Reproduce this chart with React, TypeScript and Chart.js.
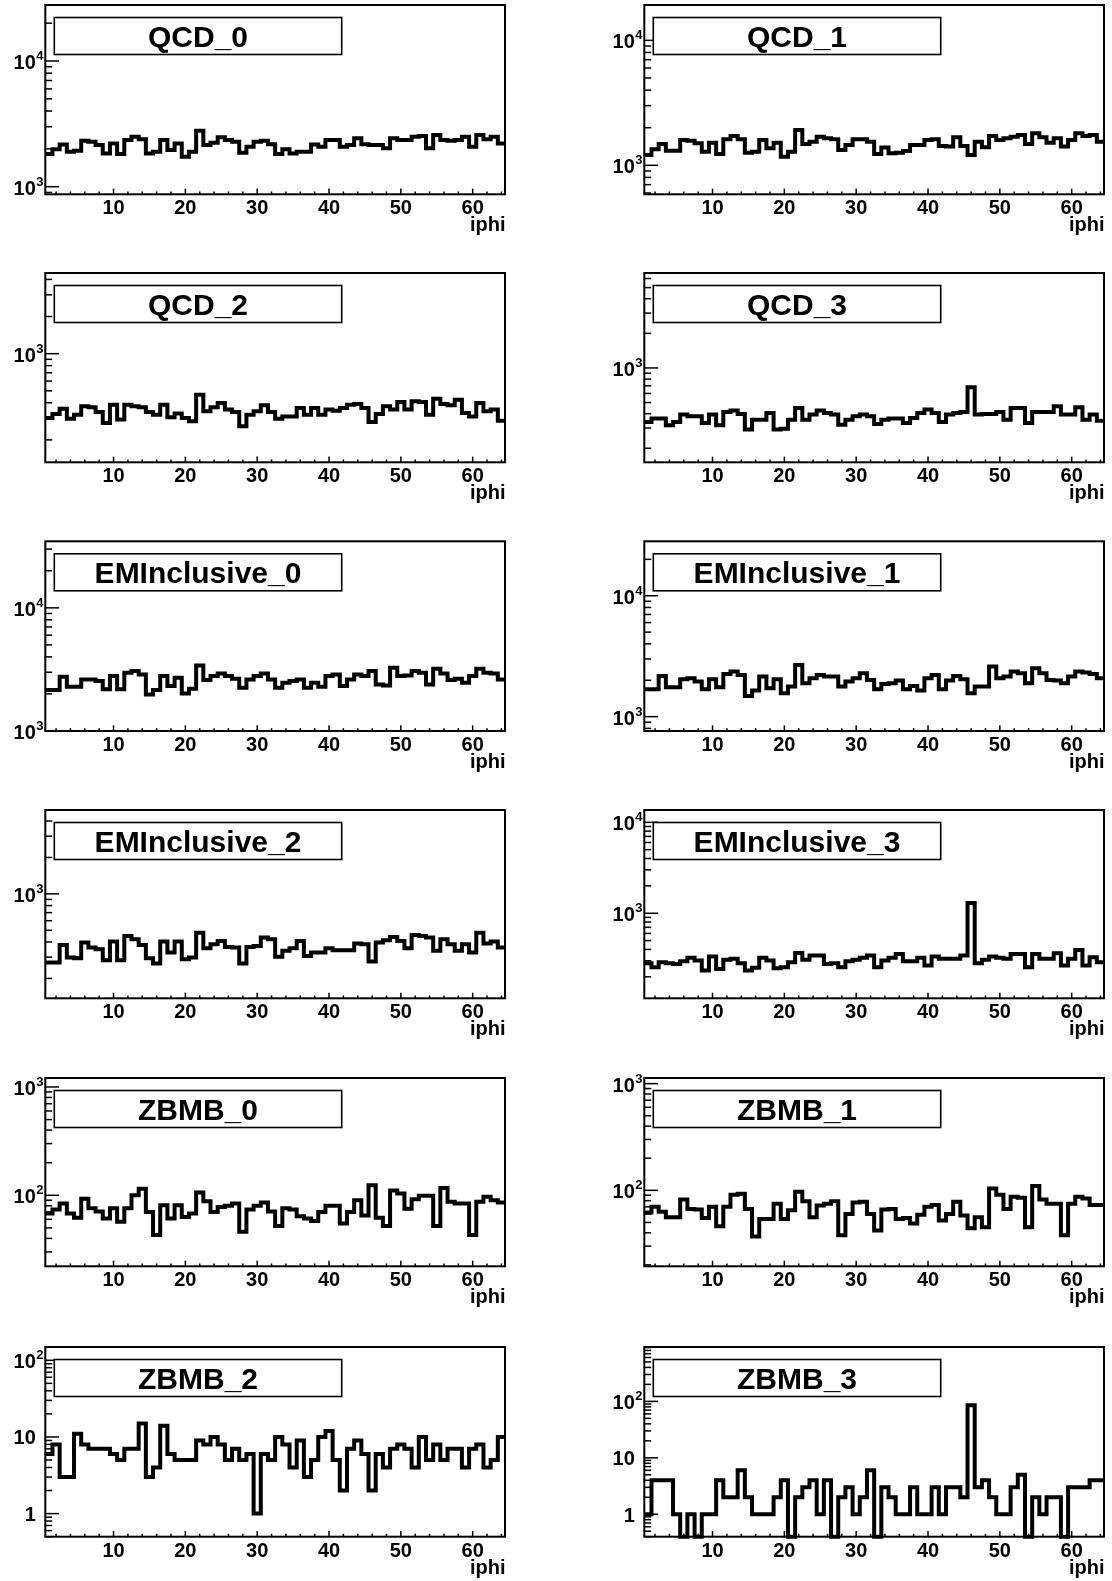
import React, { useEffect, useRef } from "react";
import { Chart, registerables } from "chart.js";

Chart.register(...registerables);

const FONT = '"Liberation Sans", Arial, Helvetica, sans-serif';

// iphi bins (categories)
const IPHI = [
  1, 2, 3, 4, 5, 6, 7, 8, 9, 10, 11, 12, 13, 14, 15, 16, 17, 18, 19, 20, 21, 22, 23, 24, 25, 26, 27, 28, 29, 30, 31, 32,
  33, 34, 35, 36, 37, 38, 39, 40, 41, 42, 43, 44, 45, 46, 47, 48, 49, 50, 51, 52, 53, 54, 55, 56, 57, 58, 59, 60, 61, 62, 63, 64,
];
const X_TICK_LABELS = [10, 20, 30, 40, 50, 60];
const X_AXIS_TITLE = "iphi";

const QCD_0 = [1820,1985,2170,1900,1935,2325,2280,2150,1840,2210,1820,2350,2500,2380,1840,1900,2350,1960,2210,1730,1900,2790,2150,2240,2470,2350,2280,1860,2080,2280,2320,2180,1820,1985,1840,1900,1900,2170,2080,2350,2350,2080,2150,2430,2180,2150,2150,2020,2430,2350,2350,2500,2530,2020,2580,2350,2320,2350,2500,2080,2580,2380,2500,2210];
const QCD_1 = [1210,1343,1481,1310,1310,1595,1575,1500,1286,1518,1232,1614,1717,1614,1263,1286,1595,1368,1518,1173,1286,1918,1481,1546,1696,1644,1614,1326,1455,1614,1614,1546,1232,1385,1247,1263,1302,1455,1455,1595,1614,1428,1411,1675,1428,1210,1546,1393,1717,1595,1644,1696,1748,1481,1803,1675,1518,1644,1411,1595,1803,1717,1748,1546];
const QCD_2 = [301,324,358,297,320,374,367,336,274,386,292,386,374,367,336,320,386,305,328,301,283,465,341,367,398,352,336,258,320,341,381,336,297,310,310,363,320,363,320,352,345,363,386,391,363,279,324,374,352,406,352,411,406,320,432,391,381,424,330,310,398,341,352,286];
const QCD_3 = [339,363,363,317,339,393,380,380,332,393,317,414,426,398,291,355,355,406,291,295,355,449,355,393,426,406,393,321,355,380,393,380,326,355,363,363,332,367,406,434,406,339,393,406,414,680,393,398,398,414,355,449,449,332,414,414,414,464,393,393,455,355,393,348];
const EMINCLUSIVE_0 = [2150,2150,2757,2288,2288,2624,2624,2543,2178,2792,2178,2972,3066,2880,1983,2150,2792,2317,2706,2020,2204,3403,2591,2792,2935,2792,2656,2246,2624,2792,2935,2624,2246,2466,2543,2624,2246,2466,2288,2792,2880,2317,2624,2880,2792,3066,2390,2345,3263,2792,2828,3066,2972,2390,3199,2935,2591,2656,2466,2792,3199,2972,2935,2624];
const EMINCLUSIVE_1 = [1685,1685,2174,1750,1750,2039,2078,1950,1685,2039,1750,2258,2360,2215,1483,1642,2146,1717,2039,1561,1773,2680,1889,2078,2215,2146,2146,1773,1950,2078,2286,2013,1685,1866,1889,1988,1685,1796,1642,2078,2215,1685,1988,2174,2039,1561,1773,1773,2594,2078,2146,2360,2286,1889,2515,2286,2013,1988,1889,2146,2360,2315,2258,2078];
const EMINCLUSIVE_2 = [271,271,378,298,294,396,360,349,283,403,283,449,421,378,294,266,403,327,403,288,298,478,355,383,408,364,360,266,364,371,435,421,302,338,355,408,307,327,327,355,342,342,342,388,383,276,396,413,440,408,355,458,449,435,338,421,383,338,383,327,478,388,403,360];
const EMINCLUSIVE_3 = [282,255,289,282,277,297,323,302,234,334,244,307,315,282,234,251,323,302,249,255,289,366,307,343,343,277,282,255,297,307,323,343,255,302,323,357,297,297,323,266,334,315,315,315,343,1299,282,307,334,323,315,357,357,255,357,315,315,363,266,315,395,266,328,289];
const ZBMB_0 = [68,74,84,68,62,93,76,71,61,76,57,76,100,115,70,43,81,61,81,63,68,106,88,70,78,80,84,46,74,80,86,71,52,76,74,64,61,58,70,80,80,55,70,90,65,124,62,52,111,104,75,92,99,99,52,117,87,84,84,43,87,97,90,86];
const ZBMB_1 = [62,70,63,56,56,82,67,66,55,70,46,70,91,93,67,37,54,54,75,54,65,97,79,56,72,75,79,38,60,77,78,60,42,66,67,54,55,49,59,70,73,52,60,78,58,44,56,45,104,91,67,87,85,45,110,82,75,75,38,75,87,84,73,73];
const ZBMB_2 = [6,8,3,3,11,8,7,7,7,6,5,7,7,15,3,4,14,6,5,5,5,9,8,10,8,5,7,5,6,1,6,5,10,8,4,9,3,5,10,12,5,2,7,9,6,2,6,4,7,8,7,4,10,5,8,5,7,7,4,7,8,4,5,10];
const ZBMB_3 = [1,4,4,4,1,0,1,0,1,1,4,2,2,6,2,1,1,1,2,4,0,2,3,4,1,4,0,2,3,1,2,6,0,3,2,1,1,3,1,1,3,1,3,3,2,85,3,4,2,1,1,3,5,0,2,1,2,2,0,3,3,3,4,4];

// panel titles, series and y-axis ranges (log scale)
const TITLES = ["QCD_0", "QCD_1", "QCD_2", "QCD_3", "EMInclusive_0", "EMInclusive_1", "EMInclusive_2", "EMInclusive_3", "ZBMB_0", "ZBMB_1", "ZBMB_2", "ZBMB_3"];
const SERIES = [QCD_0, QCD_1, QCD_2, QCD_3, EMINCLUSIVE_0, EMINCLUSIVE_1, EMINCLUSIVE_2, EMINCLUSIVE_3, ZBMB_0, ZBMB_1, ZBMB_2, ZBMB_3];
const Y_MIN = [870, 586, 131.6, 151, 1000, 761, 137, 116, 22.1, 19.4, 0.5, 0.4];
const Y_MAX = [27900, 19180, 4510, 6700, 34700, 28200, 4935, 13660, 1210, 1130, 149, 920];

// layout
const FRAME_TOPS = [5, 273, 541.3, 810, 1078, 1347];
const FRAME_BOTTOMS = [194.3, 462.3, 731, 998.3, 1266.3, 1536.7];
const COL_LEFTS = [45.3, 644.3];
const FRAME_W = 459.7;
const CANVAS_W = 556;
const ROW_H = 268;
const PAGE_H = 1581;

function HistPanel({ index }: { index: number }) {
  const ref = useRef<HTMLCanvasElement>(null);
  const row = Math.floor(index / 2);
  const col = index % 2;
  const canvasTop = row * ROW_H;
  const canvasH = row === 5 ? PAGE_H - canvasTop : ROW_H;

  useEffect(() => {
    const values = SERIES[index];
    const yMin = Y_MIN[index];
    const yMax = Y_MAX[index];
    const title = TITLES[index];
    const frameL = COL_LEFTS[col] - col * CANVAS_W;
    const frameT = FRAME_TOPS[row] - canvasTop;
    const frameB = FRAME_BOTTOMS[row] - canvasTop;

    const points: { x: number; y: number }[] = [];
    values.forEach((v, i) => {
      const y = Math.max(v, yMin);
      points.push({ x: IPHI[i] - 0.5, y });
      points.push({ x: IPHI[i] + 0.5, y });
    });

    const rootPlugin = {
      id: "rootFrame",
      afterDatasetsDraw(chart: any) {
        const { ctx, chartArea: a, scales } = chart;
        const xs = scales.x;
        const ys = scales.y;
        const w = a.right - a.left;
        const h = a.bottom - a.top;
        ctx.save();
        ctx.strokeStyle = "#000";
        ctx.fillStyle = "#000";
        ctx.lineCap = "butt";

        // frame
        ctx.lineWidth = 2;
        ctx.strokeRect(a.left, a.top, w, h);

        // x ticks
        ctx.lineWidth = 1.5;
        for (let t = 2; t <= 64; t += 2) {
          const px = xs.getPixelForValue(t);
          const len = t % 10 === 0 ? 0.03 * h : 0.015 * h;
          ctx.beginPath();
          ctx.moveTo(px, a.bottom);
          ctx.lineTo(px, a.bottom - len);
          ctx.stroke();
        }

        // y ticks (log)
        const dMin = Math.floor(Math.log10(yMin));
        const dMax = Math.ceil(Math.log10(yMax));
        for (let d = dMin; d <= dMax; d++) {
          for (let k = 1; k <= 9; k++) {
            const v = k * Math.pow(10, d);
            if (v < yMin * 0.999 || v > yMax * 1.001) continue;
            const py = ys.getPixelForValue(v);
            const len = k === 1 ? 0.03 * w : 0.015 * w;
            ctx.beginPath();
            ctx.moveTo(a.left, py);
            ctx.lineTo(a.left + len, py);
            ctx.stroke();
          }
        }

        // x labels
        ctx.font = `bold 20px ${FONT}`;
        ctx.textAlign = "center";
        ctx.textBaseline = "top";
        X_TICK_LABELS.forEach((t) => {
          ctx.fillText(String(t), xs.getPixelForValue(t), a.bottom + 4.5);
        });
        ctx.textAlign = "right";
        ctx.textBaseline = "alphabetic";
        ctx.fillText(X_AXIS_TITLE, a.right + 0.5, a.bottom + 37);

        // y labels
        const baseRight = a.left - 9.5;
        for (let d = dMin; d <= dMax; d++) {
          const v = Math.pow(10, d);
          if (v < yMin * 0.999 || v > yMax * 1.001) continue;
          const py = ys.getPixelForValue(v);
          ctx.font = `bold 20px ${FONT}`;
          ctx.textAlign = "right";
          ctx.textBaseline = "alphabetic";
          if (d === 0 || d === 1) {
            ctx.fillText(String(v), baseRight, py + 7.5);
          } else {
            ctx.fillText("10", baseRight, py + 8);
            ctx.font = `bold 13px ${FONT}`;
            ctx.textAlign = "left";
            ctx.fillText(String(d), baseRight + 0.5, py - 1);
          }
        }

        // title box
        const bx = a.left + 9;
        const by = a.top + 12.5;
        const bw = 287.4;
        const bh = 37;
        ctx.fillStyle = "#fff";
        ctx.fillRect(bx, by, bw, bh);
        ctx.lineWidth = 1.6;
        ctx.strokeStyle = "#000";
        ctx.strokeRect(bx, by, bw, bh);
        ctx.fillStyle = "#000";
        ctx.font = `bold 30px ${FONT}`;
        ctx.textAlign = "center";
        ctx.textBaseline = "alphabetic";
        ctx.fillText(title, bx + bw / 2, by + 29.5);
        ctx.restore();
      },
    };

    const chart = new Chart(ref.current as HTMLCanvasElement, {
      type: "line",
      data: {
        datasets: [
          {
            data: points,
            borderColor: "#000",
            borderWidth: 4,
            pointRadius: 0,
            tension: 0,
            fill: false,
            borderJoinStyle: "miter",
            borderCapStyle: "butt",
            clip: 6,
          } as any,
        ],
      },
      options: {
        animation: false,
        responsive: false,
        devicePixelRatio: 1,
        events: [],
        layout: {
          padding: {
            left: frameL,
            right: CANVAS_W - frameL - FRAME_W,
            top: frameT,
            bottom: canvasH - frameB,
          },
        },
        plugins: { legend: { display: false }, tooltip: { enabled: false }, title: { display: false } },
        scales: {
          x: { type: "linear", min: 0.5, max: 64.5, display: false },
          y: { type: "logarithmic", min: yMin, max: yMax, display: false },
        },
      },
      plugins: [rootPlugin],
    });
    return () => chart.destroy();
  }, []);

  return (
    <canvas
      ref={ref}
      width={CANVAS_W}
      height={canvasH}
      style={{ position: "absolute", left: col * CANVAS_W, top: canvasTop, width: CANVAS_W, height: canvasH, display: "block" }}
    />
  );
}

export default function App() {
  return (
    <div style={{ position: "absolute", left: 0, top: 0, width: 1112, height: PAGE_H, overflow: "hidden", background: "#fff" }}>
      {TITLES.map((_, i) => (
        <HistPanel key={i} index={i} />
      ))}
    </div>
  );
}
